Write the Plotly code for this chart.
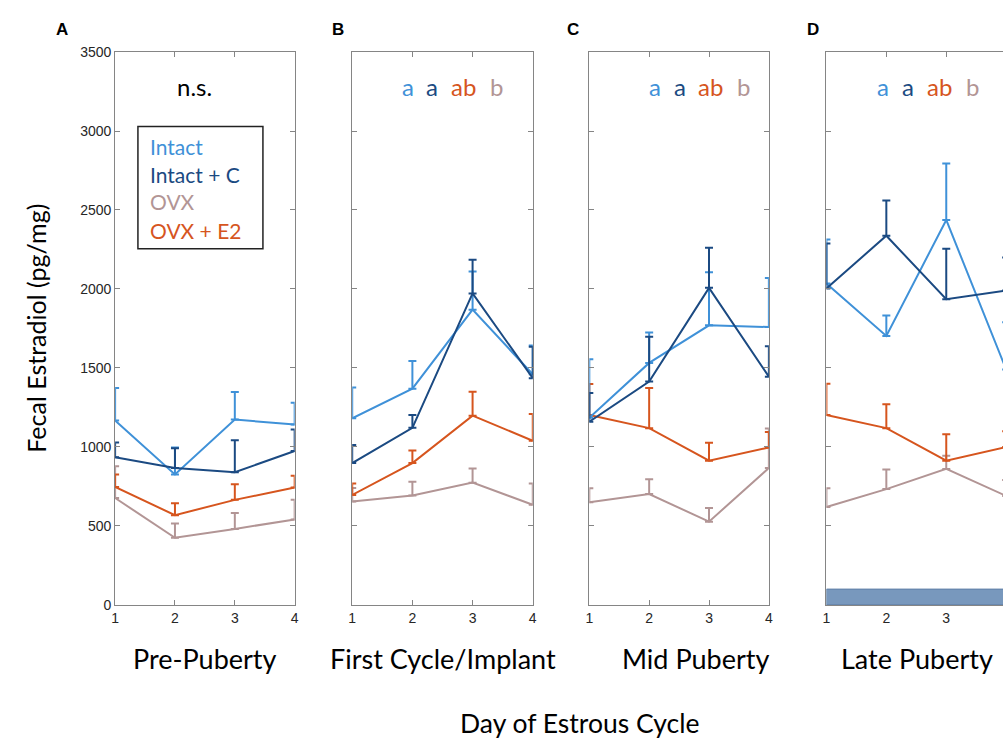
import plotly.graph_objects as go

W, H = 1007, 745

days = [1, 2, 3, 4]
panel_titles = ["Pre-Puberty", "First Cycle/Implant", "Mid Puberty", "Late Puberty"]
panel_letters = ["A", "B", "C", "D"]
group_names = ["Intact", "Intact + C", "OVX", "OVX + E2"]

# means per panel (A, B, C, D)
intact_mean = [[1167, 826, 1173, 1142], [1181, 1369, 1869, 1460], [1185, 1532, 1770, 1759], [2034, 1703, 2437, 1490]]
intact_err = [[206, 171, 175, 138], [196, 175, 241, 182], [370, 192, 336, 310], [279, 129, 357, 300]]
intactc_mean = [[935, 867, 840, 974], [898, 1121, 1972, 1435], [1160, 1414, 2007, 1445], [2003, 2337, 1935, 1990]]
intactc_err = [[93, 124, 203, 137], [114, 81, 213, 200], [182, 283, 254, 192], [285, 223, 320, 210]]
ovx_mean = [[677, 425, 481, 541], [655, 692, 774, 634], [650, 702, 527, 867], [620, 733, 861, 690]]
ovx_err = [[201, 91, 101, 124], [85, 87, 89, 134], [89, 93, 86, 250], [119, 124, 83, 100]]
ovxe2_mean = [[747, 568, 665, 743], [696, 898, 1198, 1039], [1202, 1119, 913, 997], [1202, 1119, 913, 1000]]
ovxe2_err = [[79, 76, 99, 75], [72, 79, 151, 169], [196, 254, 113, 97], [198, 151, 167, 100]]

stat_letters = ["a", "a", "ab", "b"]
stat_letter_x = [[1.92, 2.32, 2.85, 3.40], [2.09, 2.51, 3.03, 3.57], [1.95, 2.36, 2.88, 3.44]]
bar_range = [1, 4]
bar_height = 100

yticks = [0, 500, 1000, 1500, 2000, 2500, 3000, 3500]

C_INTACT = "#3f91d8"
C_INTACTC = "#1b4a82"
C_OVX = "#b29595"
C_OVXE2 = "#d6551e"
group_colors = [C_INTACT, C_INTACTC, C_OVX, C_OVXE2]
letter_colors = [C_INTACT, C_INTACTC, C_OVXE2, C_OVX]

# pixel layout of panels
px_left = [112, 351, 590, 829]
px_right = [293, 533, 771, 1007]
py_top, py_bot = 45, 610
unit_px = 60.4


def px(x):
    return x / W


def py(y):
    return 1 - y / H


fig = go.Figure()

series = [
    (ovx_mean, ovx_err, C_OVX, "OVX"),
    (ovxe2_mean, ovxe2_err, C_OVXE2, "OVX + E2"),
    (intact_mean, intact_err, C_INTACT, "Intact"),
    (intactc_mean, intactc_err, C_INTACTC, "Intact + C"),
]

for p in range(4):
    xa = "x" if p == 0 else f"x{p+1}"
    ya = "y" if p == 0 else f"y{p+1}"
    for mean, err, col, name in series:
        fig.add_trace(go.Scatter(
            x=days, y=mean[p], mode="lines", name=name, showlegend=False,
            line=dict(color=col, width=2),
            error_y=dict(type="data", symmetric=False, array=err[p],
                         arrayminus=[0] * 4, color=col, thickness=2, width=4),
            xaxis=xa, yaxis=ya,
        ))

layout = dict(
    width=W, height=H, autosize=False,
    margin=dict(l=0, r=0, t=0, b=0),
    plot_bgcolor="white", paper_bgcolor="white",
    showlegend=False,
)

axis_col = "#858585"
for p in range(4):
    xk = "xaxis" if p == 0 else f"xaxis{p+1}"
    yk = "yaxis" if p == 0 else f"yaxis{p+1}"
    ya = "y" if p == 0 else f"y{p+1}"
    xa = "x" if p == 0 else f"x{p+1}"
    xr = [1, 4] if p < 3 else [1, 1 + (px_right[p] - px_left[p]) / unit_px]
    layout[xk] = dict(
        domain=[px(px_left[p]), px(px_right[p])], anchor=ya, range=xr,
        tickvals=days, ticks="inside", ticklen=5, tickcolor=axis_col,
        showline=True, linecolor=axis_col, linewidth=1, mirror="ticks",
        showgrid=False, zeroline=False,
        tickfont=dict(family="Arial", size=14, color="#262626"),
    )
    layout[yk] = dict(
        domain=[py(py_bot), py(py_top)], anchor=xa, range=[0, 3500],
        tickvals=yticks, ticks="inside", ticklen=5, tickcolor=axis_col,
        showline=True, linecolor=axis_col, linewidth=1,
        mirror="ticks" if p < 3 else False,
        showgrid=False, zeroline=False, showticklabels=(p == 0),
        tickfont=dict(family="Arial", size=14, color="#262626"),
    )

fig.update_layout(**layout)

# blue bar in panel D
fig.add_shape(type="rect", xref="x4", yref="y4", x0=bar_range[0], x1=bar_range[1],
              y0=0, y1=bar_height, fillcolor="#7898bd", line=dict(color="#5f7fa6", width=1),
              layer="above")

ann = []


def paper_text(text, x, y, size, color="black", family="Lato", angle=0, xanchor="center"):
    ann.append(dict(text=text, x=px(x), y=py(y), xref="paper", yref="paper",
                    xanchor=xanchor, yanchor="middle", showarrow=False, textangle=angle,
                    font=dict(family=family, size=size, color=color)))


# panel letters and titles
for p in range(4):
    paper_text(f"<b>{panel_letters[p]}</b>", [58, 337, 574, 815][p], 22, 17, family="Arial")
    paper_text(panel_titles[p], [203, 443, 697, 920][p], 665, 27)

# stat letters
for i, p in enumerate([1, 2, 3]):
    xa = f"x{p+1}"
    ya = f"y{p+1}"
    for j in range(4):
        ann.append(dict(text=stat_letters[j], x=stat_letter_x[i][j], y=3280,
                        xref=xa, yref=ya, xanchor="center", yanchor="middle", showarrow=False,
                        font=dict(family="Lato", size=24, color=letter_colors[j])))

ann.append(dict(text="n.s.", x=2.33, y=3280, xref="x", yref="y", showarrow=False,
                xanchor="center", yanchor="middle",
                font=dict(family="Lato", size=24, color="black")))

# legend texts
for j, name in enumerate(group_names):
    paper_text(name, 145, [142, 170, 198, 227][j], 21, color=group_colors[j], xanchor="left")

paper_text("Fecal Estradiol (pg/mg)", 32, 327, 25, angle=-90)
paper_text("Day of Estrous Cycle", 580, 731, 26.5)

fig.update_layout(annotations=ann)

# legend box
fig.add_shape(type="rect", xref="paper", yref="paper", x0=px(135), x1=px(261),
              y0=py(246), y1=py(121), line=dict(color="#222222", width=1.5), fillcolor="rgba(0,0,0,0)")

fig.write_html(
    "out.html",
    config={"displayModeBar": False},
    post_script=(
        "document.documentElement.style.margin='0';"
        "document.body.style.margin='0';"
        "document.body.style.overflow='hidden';"
        "var d=document.getElementById('{plot_id}');"
        "d.style.position='fixed';d.style.top='0px';d.style.left='0px';"
    ),
)
